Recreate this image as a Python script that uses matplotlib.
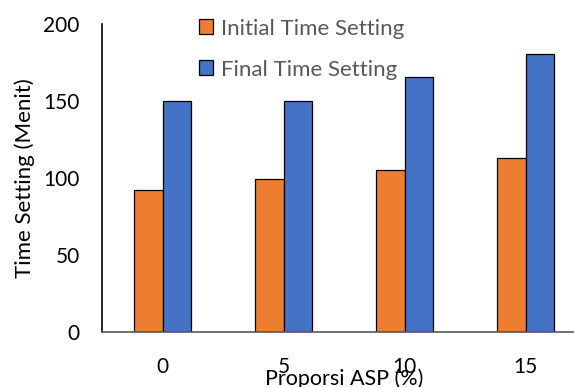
import matplotlib
matplotlib.use("Agg")
import matplotlib.pyplot as plt
import numpy as np

plt.rcParams['font.family'] = ['Lato', 'DejaVu Sans']

categories = ["0", "5", "10", "15"]
initial_time = [92, 99, 105, 113]
final_time = [150, 150, 165, 180]
series_labels = ["Initial Time Setting", "Final Time Setting"]
colors = ["#ED7D31", "#4472C4"]

fig = plt.figure(figsize=(5.74, 3.87), dpi=100)
ax = fig.add_axes([102 / 574, 55 / 387, 484 / 574, 308.5 / 387])

x = np.arange(len(categories))
w = 0.238
ax.bar(x - w / 2, initial_time, w, color=colors[0], edgecolor="black", linewidth=0.9,
       label=series_labels[0])
ax.bar(x + w / 2, final_time, w, color=colors[1], edgecolor="black", linewidth=0.9,
       label=series_labels[1])

ax.set_xlim(-0.5, len(categories) - 0.5)
ax.set_ylim(0, 200)
ax.set_yticks([0, 50, 100, 150, 200])
ax.set_xticks(x)
ax.set_xticklabels(categories)
ax.tick_params(axis="y", length=0, pad=16, labelsize=15)
ax.tick_params(axis="x", length=0, pad=18, labelsize=15)

for s in ["top", "right"]:
    ax.spines[s].set_visible(False)
ax.spines["left"].set_color("black")
ax.spines["left"].set_linewidth(1.2)
ax.spines["bottom"].set_color("#595959")
ax.spines["bottom"].set_linewidth(1.2)

ax.set_ylabel("Time Setting (Menit)", fontsize=16, labelpad=6)
fig.text(344 / 574, 1 - 368 / 387, "Proporsi ASP (%)", fontsize=15.5,
         ha="center", va="top")

leg = ax.legend(loc="upper left", bbox_to_anchor=(88 / 484, 1.045),
                bbox_transform=ax.transAxes, frameon=False, fontsize=16,
                handlelength=0.65, handleheight=0.65, handletextpad=0.35,
                labelspacing=0.95, borderaxespad=0)
for t in leg.get_texts():
    t.set_color("#595959")

fig.savefig("out.png", dpi=100)
